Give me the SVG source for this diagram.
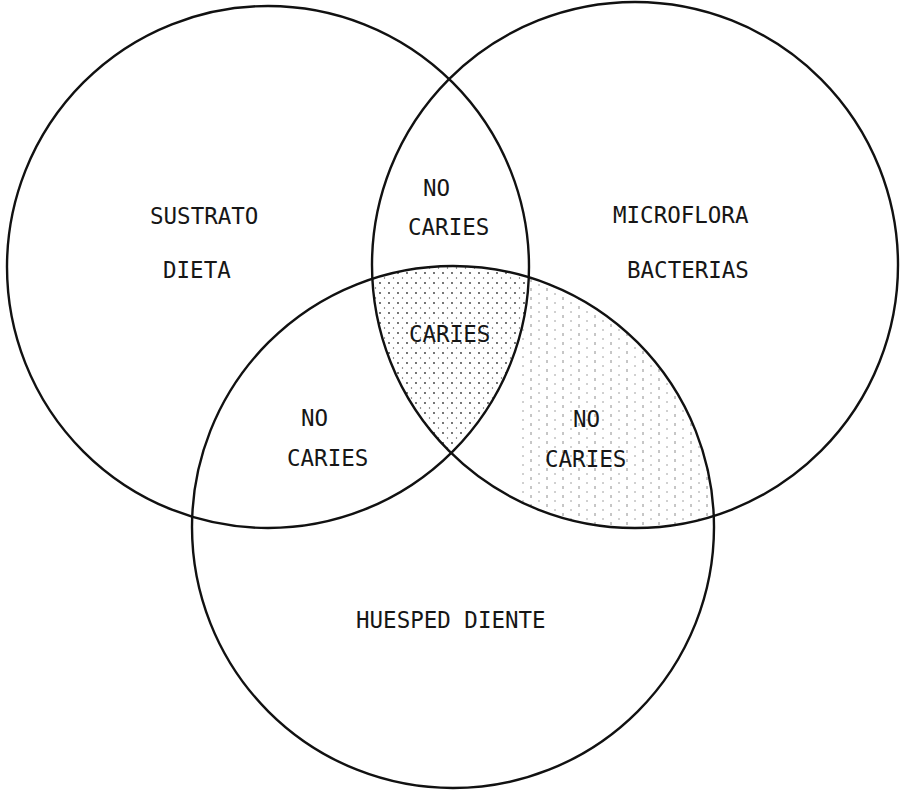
<svg xmlns="http://www.w3.org/2000/svg" width="903" height="791" viewBox="0 0 903 791">
<style>
.ring{fill:none;stroke:#111;stroke-width:2.4}
.lbl{font-family:"DejaVu Sans Mono","Liberation Mono",monospace;font-size:22.5px;fill:#161616}
</style>
<defs>
<clipPath id="k1"><circle cx="268" cy="267" r="261"/></clipPath>
<clipPath id="k2"><circle cx="635" cy="265" r="263"/></clipPath>
<clipPath id="k3"><circle cx="453" cy="527" r="261"/></clipPath>
<pattern id="dots" width="9" height="10" patternUnits="userSpaceOnUse">
<circle cx="2" cy="3" r="0.9" fill="#333"/><circle cx="6.5" cy="8" r="0.7" fill="#555"/>
</pattern>
<pattern id="vdash" width="16" height="9" patternUnits="userSpaceOnUse">
<line x1="3" y1="0" x2="3" y2="3" stroke="#444" stroke-width="1"/>
<line x1="11" y1="5" x2="11" y2="7" stroke="#666" stroke-width="1"/>
</pattern>
<mask id="mR">
<rect width="903" height="791" fill="#000"/>
<g clip-path="url(#k3)"><circle cx="635" cy="265" r="263" fill="#fff"/></g>
<circle cx="268" cy="267" r="261" fill="#000"/>
</mask>
</defs>
<rect width="903" height="791" fill="#fff"/>
<g id="shading">
<g clip-path="url(#k1)"><g clip-path="url(#k2)"><g clip-path="url(#k3)">
<rect x="360" y="260" width="180" height="200" fill="url(#dots)"/>
</g></g></g>
<rect x="520" y="260" width="200" height="270" fill="url(#vdash)" mask="url(#mR)" opacity="0.6"/>
</g>
<g id="connectors"></g>
<g id="sustrato">
<circle class="ring" cx="268" cy="267" r="261"/>
<text class="lbl" x="150" y="224">SUSTRATO</text>
<text class="lbl" x="163" y="278">DIETA</text>
</g>
<g id="microflora">
<circle class="ring" cx="635" cy="265" r="263"/>
<text class="lbl" x="613" y="223">MICROFLORA</text>
<text class="lbl" x="627" y="278">BACTERIAS</text>
</g>
<g id="huesped">
<circle class="ring" cx="453" cy="527" r="261"/>
<text class="lbl" x="356" y="628">HUESPED DIENTE</text>
</g>
<g id="lens-top">
<text class="lbl" x="423" y="196">NO</text>
<text class="lbl" x="408" y="235">CARIES</text>
</g>
<g id="center">
<text class="lbl" x="409" y="342">CARIES</text>
</g>
<g id="lens-left">
<text class="lbl" x="301" y="426">NO</text>
<text class="lbl" x="287" y="466">CARIES</text>
</g>
<g id="lens-right">
<text class="lbl" x="573" y="427">NO</text>
<text class="lbl" x="545" y="467">CARIES</text>
</g>
</svg>
